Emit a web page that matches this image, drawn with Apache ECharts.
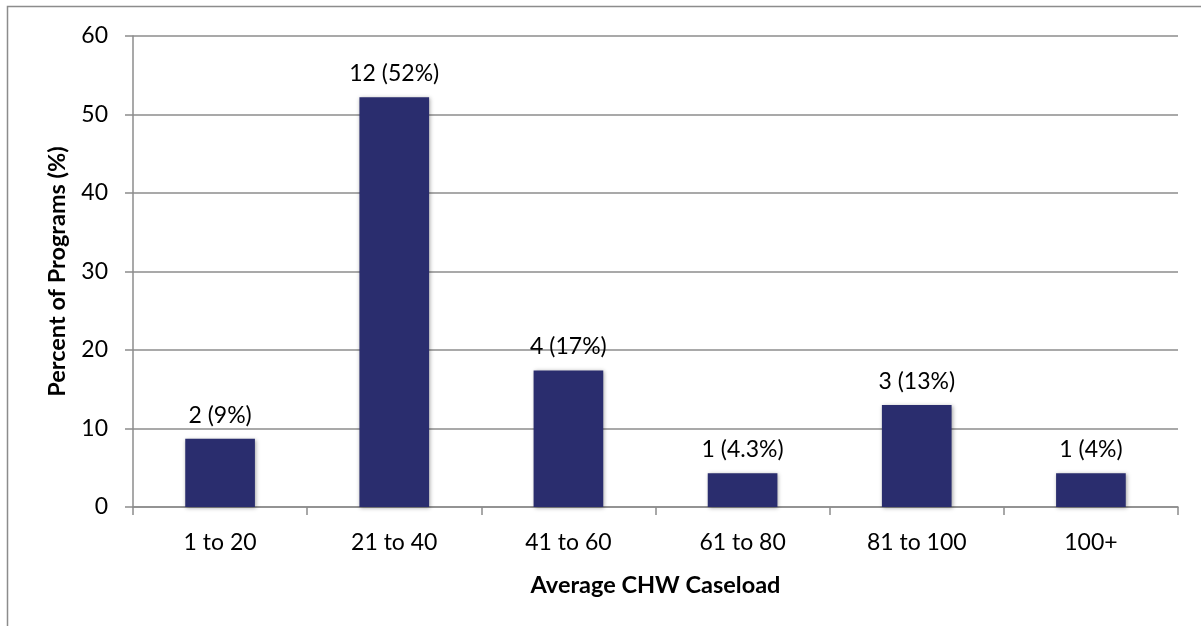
<!DOCTYPE html>
<html>
<head>
<meta charset="utf-8">
<script src="https://cdn.jsdelivr.net/npm/echarts@6/dist/echarts.min.js"></script>
<style>
  html, body { margin: 0; padding: 0; background: #fff; }
  #chart { width: 1201px; height: 626px; }
</style>
</head>
<body>
<div id="chart"></div>
<script>
// Caseload bands and share of programs in each band
const categories = ['1 to 20', '21 to 40', '41 to 60', '61 to 80', '81 to 100', '100+'];
const percentValues = [8.7, 52.2, 17.4, 4.3, 13.0, 4.3];
const barLabels = ['2 (9%)', '12 (52%)', '4 (17%)', '1 (4.3%)', '3 (13%)', '1 (4%)'];
const yTicks = { min: 0, max: 60, interval: 10 };

const FONT = 'Lato, "Open Sans", sans-serif';
const chart = echarts.init(document.getElementById('chart'), null, { renderer: 'canvas' });

chart.setOption({
  animation: false,
  backgroundColor: '#ffffff',
  graphic: [{
    type: 'rect',
    shape: { x: 7.5, y: 6.5, width: 1400, height: 800 },
    style: { fill: 'none', stroke: '#8c8c8c', lineWidth: 1.5 },
    silent: true
  }],
  grid: { left: 133, right: 23, top: 36, bottom: 119, containLabel: false },
  xAxis: {
    type: 'category',
    data: categories,
    name: 'Average CHW Caseload',
    nameLocation: 'middle',
    nameGap: 66,
    nameTextStyle: { fontFamily: FONT, fontSize: 23.5, fontWeight: 'bold', color: '#000' },
    axisLine: { lineStyle: { color: '#8c8c8c', width: 1.5 } },
    axisTick: { show: true, alignWithLabel: false, length: 8, lineStyle: { color: '#8c8c8c', width: 1.5 } },
    axisLabel: { fontFamily: FONT, fontSize: 23, color: '#000', margin: 24 }
  },
  yAxis: {
    type: 'value',
    min: yTicks.min,
    max: yTicks.max,
    interval: yTicks.interval,
    name: 'Percent of Programs (%)',
    nameLocation: 'middle',
    nameGap: 64,
    nameRotate: 90,
    nameTextStyle: { fontFamily: FONT, fontSize: 23.5, fontWeight: 'bold', color: '#000' },
    axisLine: { show: true, lineStyle: { color: '#8c8c8c', width: 1.5 } },
    axisTick: { show: true, length: 8, lineStyle: { color: '#8c8c8c', width: 1.5 } },
    axisLabel: { fontFamily: FONT, fontSize: 23, color: '#000', margin: 25 },
    splitLine: { show: true, lineStyle: { color: '#8c8c8c', width: 1.5 } }
  },
  series: [{
    type: 'bar',
    data: percentValues,
    barWidth: '40%',
    itemStyle: {
      color: '#2a2d6e',
      shadowColor: 'rgba(0,0,0,0.35)',
      shadowBlur: 4,
      shadowOffsetX: 1,
      shadowOffsetY: 1
    },
    label: {
      show: true,
      position: 'top',
      distance: 12,
      fontFamily: FONT,
      fontSize: 23,
      color: '#000',
      formatter: p => barLabels[p.dataIndex]
    }
  }]
});
</script>
</body>
</html>
